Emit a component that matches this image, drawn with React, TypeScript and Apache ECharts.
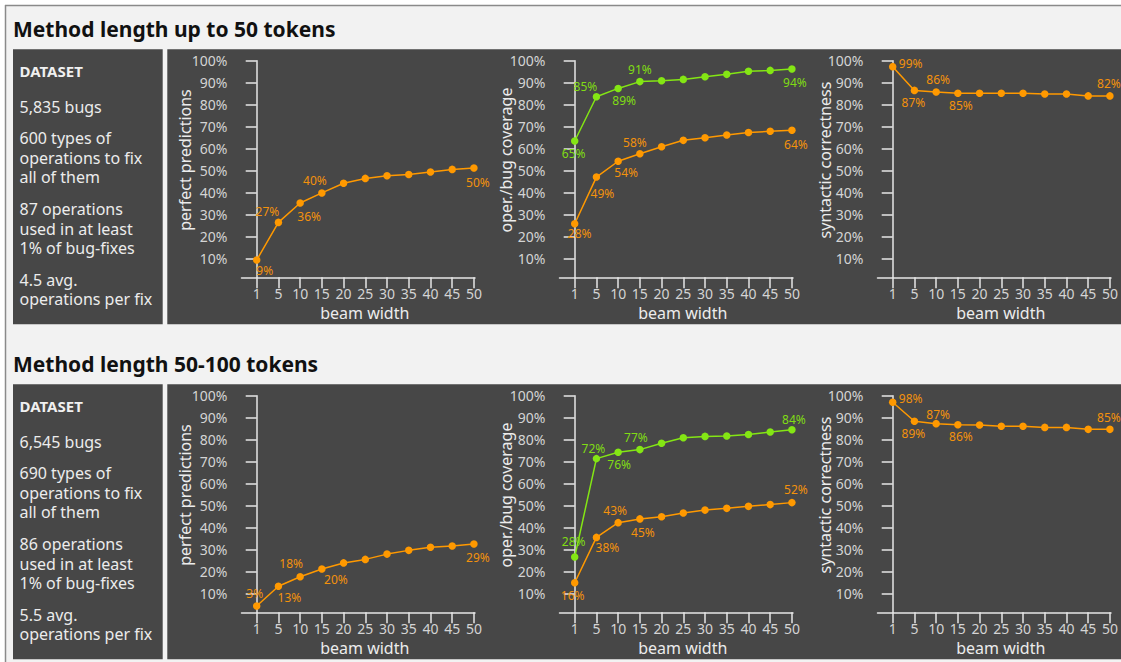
import React, { useEffect, useRef } from "react";
import * as echarts from "echarts";

// ---------- data ----------
const beamWidths = [1, 5, 10, 15, 20, 25, 30, 35, 40, 45, 50];
const yTickValues = [10, 20, 30, 40, 50, 60, 70, 80, 90, 100];

const sectionTitles = ["Method length up to 50 tokens", "Method length 50-100 tokens"];
const datasetHeading = "DATASET";
const datasetShort = [
  "5,835 bugs",
  "600 types of\noperations to fix\nall of them",
  "87 operations\nused in at least\n1% of bug-fixes",
  "4.5 avg.\noperations per fix",
];
const datasetLong = [
  "6,545 bugs",
  "690 types of\noperations to fix\nall of them",
  "86 operations\nused in at least\n1% of bug-fixes",
  "5.5 avg.\noperations per fix",
];

const yTitles = ["perfect predictions", "oper./bug coverage", "syntactic correctness"];
const xTitle = "beam width";

// up to 50 tokens
const shortPerfect = [9.4, 26.5, 35.3, 39.9, 44.3, 46.5, 47.7, 48.3, 49.4, 50.6, 51.2];
const shortPerfectLabels = ["9%", "27%", "36%", "40%", "", "", "", "", "", "", "50%"];
const shortBugCoverage = [63.5, 83.6, 87.4, 90.5, 90.9, 91.5, 92.7, 93.8, 95.2, 95.6, 96.2];
const shortBugCoverageLabels = ["65%", "85%", "89%", "91%", "", "", "", "", "", "", "94%"];
const shortOperCoverage = [25.9, 47.1, 54.3, 57.7, 60.9, 63.8, 65.0, 66.2, 67.4, 67.9, 68.4];
const shortOperCoverageLabels = ["28%", "49%", "54%", "58%", "", "", "", "", "", "", "64%"];
const shortSyntax = [97.3, 86.5, 85.8, 85.2, 85.2, 85.2, 85.2, 84.9, 84.9, 84.0, 84.0];
const shortSyntaxLabels = ["99%", "87%", "86%", "85%", "", "", "", "", "", "", "82%"];

// 50-100 tokens
const longPerfect = [4.4, 13.4, 17.7, 21.2, 24.0, 25.6, 28.0, 29.7, 31.1, 31.7, 32.6];
const longPerfectLabels = ["3%", "13%", "18%", "20%", "", "", "", "", "", "", "29%"];
const longBugCoverage = [26.7, 71.4, 74.3, 75.5, 78.4, 80.9, 81.5, 81.7, 82.4, 83.5, 84.5];
const longBugCoverageLabels = ["28%", "72%", "76%", "77%", "", "", "", "", "", "", "84%"];
const longOperCoverage = [15.0, 35.6, 42.3, 44.0, 45.0, 46.7, 48.0, 48.8, 49.7, 50.5, 51.4];
const longOperCoverageLabels = ["16%", "38%", "43%", "45%", "", "", "", "", "", "", "52%"];
const longSyntax = [97.0, 88.4, 87.3, 86.8, 86.7, 86.1, 86.1, 85.6, 85.6, 84.7, 84.7];
const longSyntaxLabels = ["98%", "89%", "87%", "86%", "", "", "", "", "", "", "85%"];

// ---------- styles / layout ----------
const FONT = '"Noto Sans", sans-serif';
const ORANGE = "#ff9900";
const ORANGE_TEXT = "#f3920c";
const GREEN = "#84e614";
const GREEN_TEXT = "#80dc14";
const PANEL = "#474747";
const ROW_OFFSET = 335;
const COL_OFFSET = 318;

// label offsets (label centre relative to point), keyed by point index
type Off = Record<number, [number, number]>;
const offShortPerfect: Off = { 0: [8, 10], 1: [-11, -11], 2: [9, 13], 3: [-7, -12], 10: [4, 14] };
const offShortBug: Off = { 0: [-1, 12], 1: [-11, -10], 2: [6, 12], 3: [0, -12], 10: [3, 13] };
const offShortOper: Off = { 0: [5, 10], 1: [6, 16], 2: [8, 11], 3: [-5, -11], 10: [4, 14] };
const offShortSyntax: Off = { 0: [18, -3], 1: [-1, 12], 2: [2, -12], 3: [3, 12], 10: [-1, -12] };
const offLongPerfect: Off = { 0: [-2, -13], 1: [11, 11], 2: [-9, -13], 3: [14, 10], 10: [4, 14] };
const offLongBug: Off = { 0: [-1, -15], 1: [-3, -10], 2: [1, 12], 3: [-4, -12], 10: [2, -10] };
const offLongOper: Off = { 0: [-2, 13], 1: [11, 10], 2: [-3, -12], 3: [3, 14], 10: [4, -13] };
const offLongSyntax: Off = { 0: [18, -4], 1: [-1, 12], 2: [2, -9], 3: [3, 12], 10: [-1, -12] };

const yNameGaps = [48.5, 46, 45];

function makeSeries(
  grid: number,
  values: number[],
  labels: string[],
  offsets: Off,
  color: string,
  textColor: string
) {
  return {
    type: "line",
    xAxisIndex: grid,
    yAxisIndex: grid,
    symbol: "circle",
    symbolSize: 7.5,
    lineStyle: { color, width: 1.5 },
    itemStyle: { color },
    emphasis: { disabled: true },
    silent: true,
    z: 3,
    data: values.map((v, i) => {
      const item: any = { value: [i, v] };
      if (labels[i]) {
        item.label = {
          show: true,
          position: "inside",
          offset: offsets[i] || [0, 0],
          formatter: labels[i],
          color: textColor,
          fontSize: 12,
          fontFamily: FONT,
        };
      }
      return item;
    }),
  };
}

function buildOption() {
  const grids: any[] = [];
  const xAxes: any[] = [];
  const yAxes: any[] = [];
  for (let row = 0; row < 2; row++) {
    for (let col = 0; col < 3; col++) {
      const idx = row * 3 + col;
      grids.push({
        left: 241.5 + COL_OFFSET * col,
        top: 60.7 + ROW_OFFSET * row,
        width: 233.5,
        height: 216.6,
      });
      xAxes.push({
        type: "value",
        gridIndex: idx,
        min: -0.7,
        max: 10.05,
        splitLine: { show: false },
        axisLine: { show: true, lineStyle: { color: "#e6e6e6", width: 1.5 } },
        axisTick: {
          show: true,
          customValues: beamWidths.map((_, i) => i),
          length: 11,
          lineStyle: { color: "#e6e6e6", width: 1.5 },
        },
        axisLabel: {
          customValues: beamWidths.map((_, i) => i),
          formatter: (v: number) => String(beamWidths[Math.round(v)]),
          color: "#d4d4d4",
          fontSize: 14,
          fontFamily: FONT,
          margin: 9,
        },
        name: xTitle,
        nameLocation: "middle",
        nameGap: 28,
        nameMoveOverlap: false,
        nameTextStyle: {
          color: "#ececec",
          fontSize: 16,
          fontFamily: FONT,
          padding: [0, 0, 0, 13],
        },
      });
      yAxes.push({
        type: "value",
        gridIndex: idx,
        min: 1.55,
        max: 100,
        splitLine: { show: false },
        axisLine: { show: true, lineStyle: { color: "#e6e6e6", width: 1.5 } },
        axisTick: {
          show: true,
          customValues: yTickValues,
          length: 11,
          lineStyle: { color: "#e6e6e6", width: 1.5 },
        },
        axisLabel: {
          customValues: yTickValues,
          formatter: (v: number) => `${v}%`,
          color: "#d4d4d4",
          fontSize: 14,
          fontFamily: FONT,
          margin: 14,
        },
        name: yTitles[col],
        nameLocation: "middle",
        nameGap: yNameGaps[col],
        nameMoveOverlap: false,
        nameTextStyle: {
          color: "#ececec",
          fontSize: 16,
          fontFamily: FONT,
          padding: [0, 0, 0, 18],
        },
      });
    }
  }

  const series = [
    makeSeries(0, shortPerfect, shortPerfectLabels, offShortPerfect, ORANGE, ORANGE_TEXT),
    makeSeries(1, shortOperCoverage, shortOperCoverageLabels, offShortOper, ORANGE, ORANGE_TEXT),
    makeSeries(1, shortBugCoverage, shortBugCoverageLabels, offShortBug, GREEN, GREEN_TEXT),
    makeSeries(2, shortSyntax, shortSyntaxLabels, offShortSyntax, ORANGE, ORANGE_TEXT),
    makeSeries(3, longPerfect, longPerfectLabels, offLongPerfect, ORANGE, ORANGE_TEXT),
    makeSeries(4, longOperCoverage, longOperCoverageLabels, offLongOper, ORANGE, ORANGE_TEXT),
    makeSeries(4, longBugCoverage, longBugCoverageLabels, offLongBug, GREEN, GREEN_TEXT),
    makeSeries(5, longSyntax, longSyntaxLabels, offLongSyntax, ORANGE, ORANGE_TEXT),
  ];

  const graphics: any[] = [
    { type: "rect", z: -100, shape: { x: 0, y: 0, width: 1121, height: 662 }, style: { fill: "#ffffff" }, silent: true },
    { type: "rect", z: -99, shape: { x: 6, y: 6, width: 1115, height: 656 }, style: { fill: "#f2f2f2" }, silent: true },
    { type: "line", z: -98, shape: { x1: 5, y1: 5.5, x2: 1121, y2: 5.5 }, style: { stroke: "#8a8a8a", lineWidth: 1.5 }, silent: true },
    { type: "line", z: -98, shape: { x1: 5.5, y1: 5, x2: 5.5, y2: 662 }, style: { stroke: "#8a8a8a", lineWidth: 1.5 }, silent: true },
  ];
  const datasets = [datasetShort, datasetLong];
  const paraCenters = [106.7, 138.3, 209.3, 280];
  for (let row = 0; row < 2; row++) {
    const dy = ROW_OFFSET * row;
    graphics.push(
      { type: "rect", z: -97, shape: { x: 13, y: 49.3 + dy, width: 149.7, height: 275 }, style: { fill: PANEL }, silent: true },
      { type: "rect", z: -97, shape: { x: 167.3, y: 49.3 + dy, width: 953.7, height: 275 }, style: { fill: PANEL }, silent: true },
      {
        type: "text",
        z: 10,
        x: 13,
        y: 28.5 + dy,
        style: {
          text: sectionTitles[row],
          fill: "#111111",
          font: `bold 21px ${FONT}`,
          verticalAlign: "middle",
          align: "left",
        },
        silent: true,
      },
      {
        type: "text",
        z: 10,
        x: 19.5,
        y: 70.7 + dy,
        style: {
          text: datasetHeading,
          fill: "#f0f0f0",
          font: `bold 15px ${FONT}`,
          verticalAlign: "middle",
          align: "left",
        },
        silent: true,
      }
    );
    datasets[row].forEach((para, i) => {
      graphics.push({
        type: "text",
        z: 10,
        x: 19.5,
        y: paraCenters[i] - 9.65 + dy,
        style: {
          text: para,
          fill: "#ececec",
          font: `16px ${FONT}`,
          lineHeight: 19.3,
          verticalAlign: "top",
          align: "left",
        },
        silent: true,
      });
    });
  }

  return {
    animation: false,
    backgroundColor: "transparent",
    textStyle: { fontFamily: FONT },
    graphic: { elements: graphics },
    grid: grids,
    xAxis: xAxes,
    yAxis: yAxes,
    series,
  };
}

export default function App() {
  const ref = useRef<HTMLDivElement>(null);
  useEffect(() => {
    if (!ref.current) return;
    const chart = echarts.init(ref.current, undefined, { renderer: "svg" });
    chart.setOption(buildOption() as any);
    return () => chart.dispose();
  }, []);
  return (
    <div
      ref={ref}
      style={{ position: "absolute", left: 0, top: 0, width: 1121, height: 662 }}
    />
  );
}
